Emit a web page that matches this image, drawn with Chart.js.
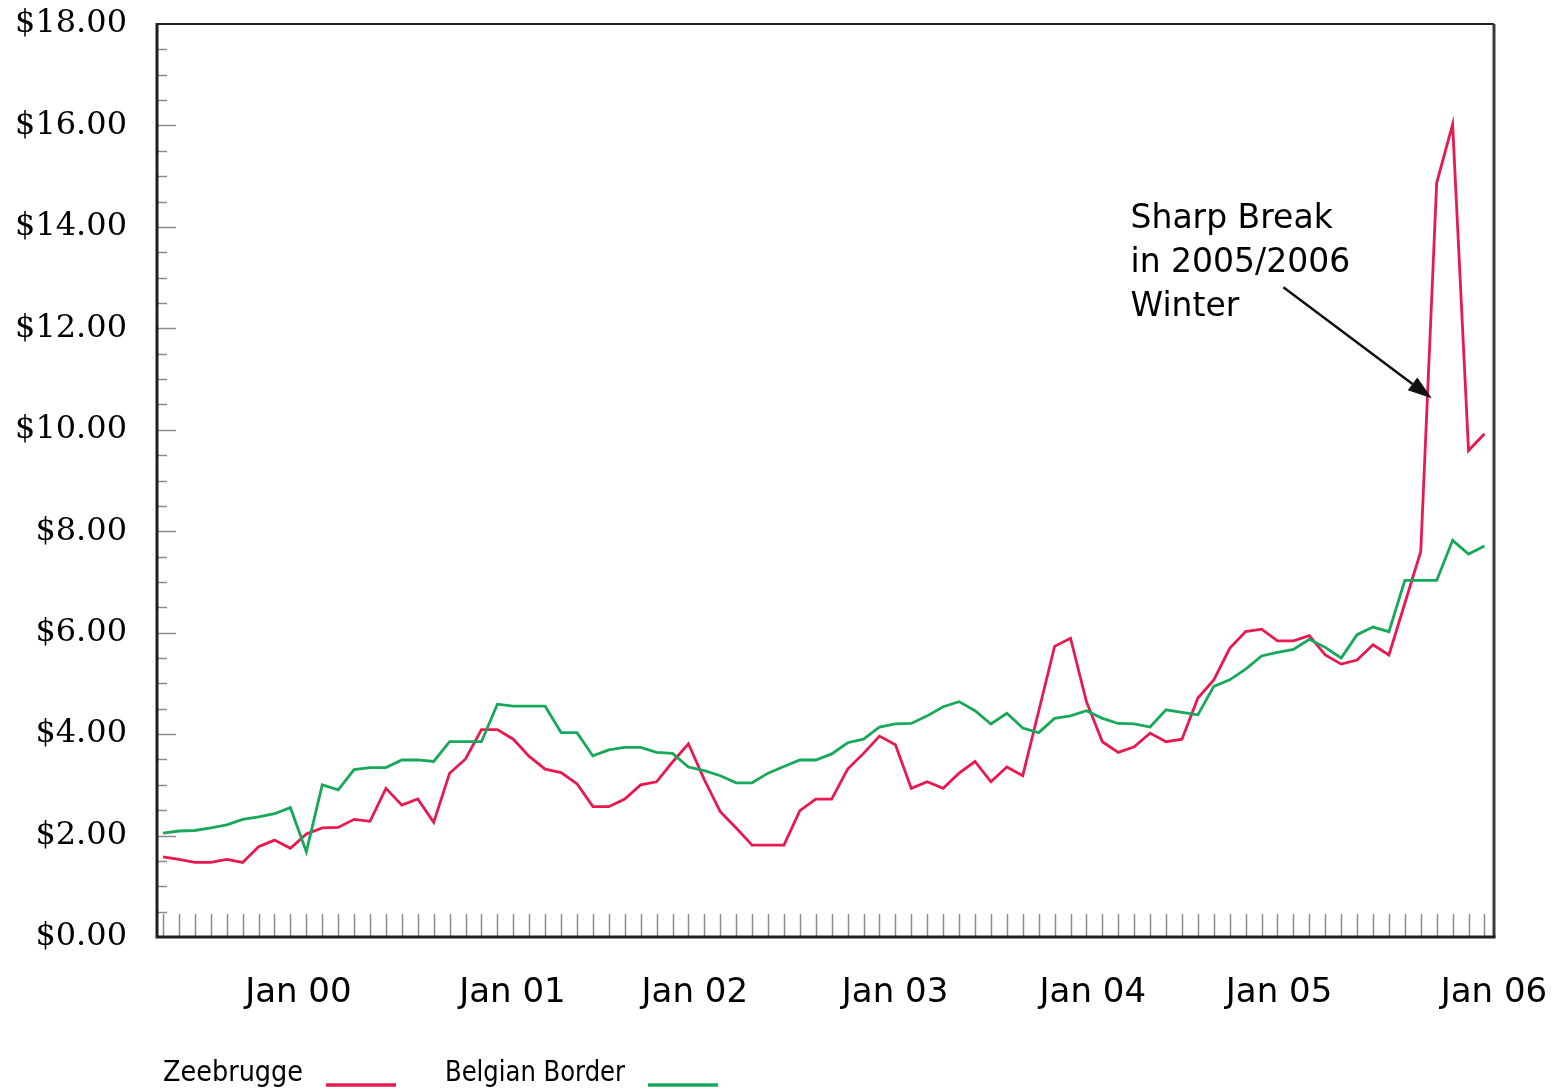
<!DOCTYPE html>
<html>
<head>
<meta charset="utf-8">
<script src="https://cdn.jsdelivr.net/npm/chart.js@4/dist/chart.umd.min.js"></script>
<style>
html,body{margin:0;padding:0;background:#fff;}
#wrap{width:1566px;height:1089px;position:relative;}
</style>
</head>
<body>
<div id="wrap"><canvas id="c" width="1566" height="1089"></canvas></div>
<script>
// ---- Data (monthly observations, $/MMBtu) ----
const zeebrugge = [
  1.58,1.53,1.47,1.47,1.53,1.47,1.78,1.91,1.75,2.03,
  2.15,2.16,2.32,2.28,2.93,2.60,2.72,2.26,3.23,3.51,
  4.09,4.09,3.90,3.56,3.31,3.24,3.02,2.57,2.57,2.72,
  3.00,3.06,3.45,3.81,3.10,2.47,2.15,1.81,1.81,1.81,
  2.49,2.72,2.72,3.31,3.62,3.96,3.79,2.93,3.06,2.93,
  3.23,3.46,3.06,3.35,3.18,4.45,5.73,5.89,4.64,3.85,
  3.64,3.75,4.02,3.85,3.90,4.71,5.07,5.69,6.02,6.07,
  5.84,5.84,5.94,5.56,5.38,5.46,5.76,5.56,6.58,7.60,
  14.87,16.02,9.59,9.92
];
const belgianBorder = [
  2.05,2.09,2.10,2.15,2.21,2.32,2.37,2.43,2.55,1.68,
  3.00,2.90,3.30,3.34,3.34,3.49,3.49,3.46,3.85,3.85,
  3.85,4.59,4.55,4.55,4.55,4.03,4.03,3.57,3.69,3.74,
  3.74,3.64,3.62,3.35,3.28,3.18,3.04,3.04,3.23,3.36,
  3.49,3.49,3.61,3.83,3.90,4.14,4.20,4.21,4.36,4.54,
  4.64,4.46,4.20,4.41,4.12,4.03,4.31,4.36,4.46,4.31,
  4.21,4.20,4.14,4.48,4.43,4.38,4.94,5.07,5.28,5.54,
  5.61,5.67,5.87,5.71,5.50,5.96,6.11,6.02,7.03,7.03,
  7.03,7.82,7.55,7.71
];
const seriesNames = ['Zeebrugge', 'Belgian Border'];
const xTickLabels = ['Jan 00','Jan 01','Jan 02','Jan 03','Jan 04','Jan 05','Jan 06'];
const xTickPositions = [8.5, 21.95, 33.4, 45.98, 58.4, 70.1, 83.6];
const annotationLines = ['Sharp Break', 'in 2005/2006', 'Winter'];

const RED = '#e8194f';
const GREEN = '#17a85a';

const toPts = arr => arr.map((v, i) => ({x: i, y: v}));

const framePlugin = {
  id: 'frame',
  afterDraw(chart) {
    const {ctx, chartArea: a, scales: {x, y}} = chart;
    ctx.save();
    // y-axis inner ticks
    ctx.strokeStyle = '#8a8a8a';
    ctx.lineWidth = 1.5;
    for (let k = 1; k < 36; k++) {
      const v = k * 0.5;
      const py = Math.round(y.getPixelForValue(v)) + 0.5;
      const len = (k % 4 === 0) ? 19 : 10;
      ctx.beginPath(); ctx.moveTo(a.left, py); ctx.lineTo(a.left + len, py); ctx.stroke();
    }
    // x-axis monthly inner ticks
    for (let i = 0; i < zeebrugge.length; i++) {
      const px = Math.round(x.getPixelForValue(i)) + 0.5;
      ctx.beginPath(); ctx.moveTo(px, a.bottom); ctx.lineTo(px, a.bottom - 23); ctx.stroke();
    }
    // frame
    ctx.strokeStyle = '#1e1e1e';
    ctx.lineWidth = 2;
    ctx.beginPath(); ctx.moveTo(a.left, a.top); ctx.lineTo(a.right, a.top); ctx.stroke();
    ctx.lineWidth = 3;
    ctx.strokeStyle = '#3a3a3a';
    ctx.beginPath(); ctx.moveTo(a.right, a.top); ctx.lineTo(a.right, a.bottom); ctx.stroke();
    ctx.strokeStyle = '#1e1e1e';
    ctx.beginPath(); ctx.moveTo(a.left, a.top - 1); ctx.lineTo(a.left, a.bottom); ctx.lineTo(a.right + 1.5, a.bottom); ctx.stroke();

    // annotation text
    ctx.fillStyle = '#000';
    ctx.font = '33px "DejaVu Sans"';
    ctx.textBaseline = 'alphabetic';
    ctx.textAlign = 'left';
    const tx = x.getPixelForValue(60.77);
    const baseVals = [13.98, 13.11, 12.24];
    annotationLines.forEach((t, k) => ctx.fillText(t, tx, y.getPixelForValue(baseVals[k])));
    // arrow
    const sx = x.getPixelForValue(70.37), sy = y.getPixelForValue(12.81);
    const ex = x.getPixelForValue(79.69), ey = y.getPixelForValue(10.62);
    const ang = Math.atan2(ey - sy, ex - sx);
    const hl = 24, hw = 8;
    const bx = ex - hl * Math.cos(ang), by = ey - hl * Math.sin(ang);
    ctx.strokeStyle = '#111'; ctx.lineWidth = 2.5;
    ctx.beginPath(); ctx.moveTo(sx, sy); ctx.lineTo(bx, by); ctx.stroke();
    ctx.beginPath();
    ctx.moveTo(ex, ey);
    ctx.lineTo(bx + hw * Math.sin(ang), by - hw * Math.cos(ang));
    ctx.lineTo(bx - hw * Math.sin(ang), by + hw * Math.cos(ang));
    ctx.closePath(); ctx.fillStyle = '#111'; ctx.fill();

    // legend (text followed by line sample)
    ctx.fillStyle = '#000';
    const starts = [163, 445];
    const textW = [140, 180];
    chart.data.datasets.forEach((ds, k) => {
      const lx = starts[k];
      ctx.font = '28px "DejaVu Sans"';
      const w0 = ctx.measureText(ds.label).width;
      const sc = textW[k] / w0;
      ctx.save();
      ctx.translate(lx, 1081);
      ctx.scale(sc, 1);
      ctx.fillText(ds.label, 0, 0);
      ctx.restore();
      ctx.strokeStyle = ds.borderColor; ctx.lineWidth = 3.5;
      ctx.beginPath(); ctx.moveTo(lx + textW[k] + 23, 1085); ctx.lineTo(lx + textW[k] + 93, 1085); ctx.stroke();
    });
    ctx.restore();
  }
};

new Chart(document.getElementById('c').getContext('2d'), {
  type: 'line',
  data: {
    datasets: [
      {label: seriesNames[0], data: toPts(zeebrugge), borderColor: RED, backgroundColor: RED,
       borderWidth: 2.8, pointRadius: 0, tension: 0, order: 1},
      {label: seriesNames[1], data: toPts(belgianBorder), borderColor: GREEN, backgroundColor: GREEN,
       borderWidth: 2.8, pointRadius: 0, tension: 0, order: 0}
    ]
  },
  options: {
    responsive: false,
    devicePixelRatio: 1,
    animation: false,
    layout: {padding: {left: 0, top: 24, right: 72, bottom: 72}},
    plugins: {legend: {display: false}, tooltip: {enabled: false}},
    scales: {
      x: {
        type: 'linear', min: -0.38, max: 83.6,
        grid: {display: false, drawTicks: false, tickLength: 0},
        border: {display: false},
        afterBuildTicks: s => { s.ticks = xTickPositions.map(v => ({value: v})); },
        afterFit: s => { s.height = 80; s.paddingLeft = 0; s.paddingRight = 0; },
        ticks: {autoSkip: false, maxRotation: 0, minRotation: 0, padding: 36, color: '#000',
          font: {family: 'DejaVu Sans', size: 34},
          callback: (v, i) => xTickLabels[i]}
      },
      y: {
        min: 0, max: 18,
        grid: {display: false, drawTicks: false, tickLength: 0},
        border: {display: false},
        afterFit: s => { s.width = 157; s.paddingTop = 0; s.paddingBottom = 0; },
        ticks: {stepSize: 2, padding: 30, color: '#000',
          font: {family: 'DejaVu Serif', size: 32},
          callback: v => '$' + v.toFixed(2)}
      }
    }
  },
  plugins: [framePlugin]
});
</script>
</body>
</html>
